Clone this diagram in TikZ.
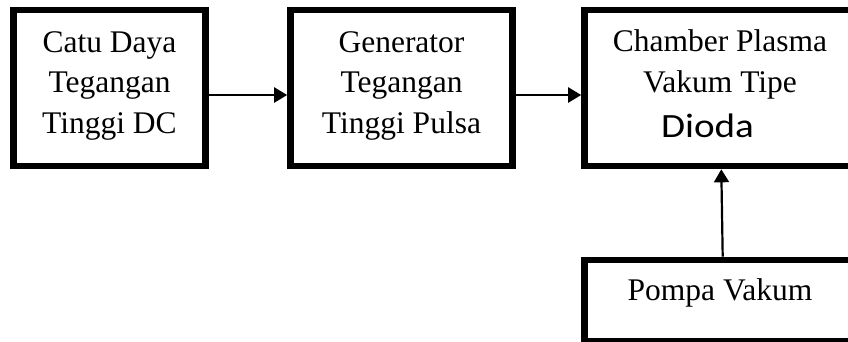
\documentclass[tikz,border=0pt]{standalone}
\usepackage{fontspec}
\setmainfont{Liberation Serif}
\newfontfamily\diodafont{Carlito}
\usepackage{graphicx}
\usetikzlibrary{arrows.meta}
\begin{document}
\begin{tikzpicture}[x=1pt,y=1pt,
  blok/.style={draw=black, line width=6.6pt, fill=white, inner sep=0pt, align=center,
     font=\fontsize{31.5}{40.5}\selectfont},
  panah/.style={draw=black, line width=2.2pt, -{Triangle[length=13pt,width=15pt]}}]
\clip (0,0) rectangle (848,-341);
\node[blok, minimum width=192pt, minimum height=156pt, text height=100pt, text depth=10pt]
  (b1) at (109.5,-88) {Catu Daya\\Tegangan\\Tinggi DC};
\node[blok, minimum width=222pt, minimum height=156pt, text height=100pt, text depth=10pt]
  (b2) at (401.5,-88) {Generator\\Tegangan\\Tinggi Pulsa};
\node[blok, minimum width=271pt, minimum height=156pt, text height=108pt, text depth=10pt]
  (b3) at (720,-88) {Chamber Plasma\\Vakum Tipe\\[4.5pt]{\diodafont\fontsize{34}{40.5}\selectfont\scalebox{1.15}[1]{Dioda}}\hspace*{25pt}};
\node[blok, minimum width=271pt, minimum height=81pt, text height=10pt, text depth=11pt]
  (b4) at (720,-300.5) {Pompa Vakum};
\draw[panah] ([yshift=-7pt]b1.east) -- ([yshift=-7pt]b2.west);
\draw[panah] ([yshift=-7pt]b2.east) -- ([yshift=-7pt]b3.west);
\draw[panah] ([xshift=2.7pt]b4.north) -- ([xshift=1.3pt]b3.south);
\end{tikzpicture}
\end{document}
